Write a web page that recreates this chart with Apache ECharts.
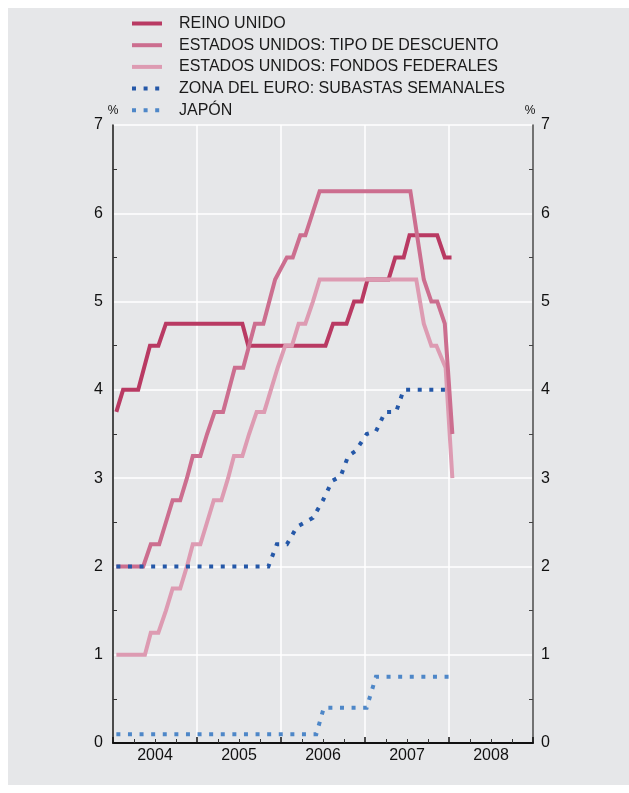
<!DOCTYPE html>
<html>
<head>
<meta charset="utf-8">
<script src="https://cdn.jsdelivr.net/npm/echarts@6/dist/echarts.min.js"></script>
<style>
  html, body { margin: 0; padding: 0; background: #ffffff; }
  #bg { position: absolute; left: 8px; top: 8px; width: 621px; height: 777px; background: #e6e7e9; }
  #chart { position: absolute; left: 0; top: 0; width: 629px; height: 793px; }
</style>
</head>
<body>
<div id="bg"></div>
<div id="chart"></div>
<script>
// Series names (legend order)
const names = [
  'REINO UNIDO',
  'ESTADOS UNIDOS: TIPO DE DESCUENTO',
  'ESTADOS UNIDOS: FONDOS FEDERALES',
  'ZONA DEL EURO: SUBASTAS SEMANALES',
  'JAPÓN'
];
// x values are decimal years
const ukT = [2004.04, 2004.12, 2004.30, 2004.37, 2004.44, 2004.54, 2004.63, 2005.54, 2005.61, 2006.53, 2006.62, 2006.78, 2006.87, 2006.96, 2007.03, 2007.28, 2007.36, 2007.46, 2007.53, 2007.86, 2007.95, 2008.03];
const ukV = [3.75, 4.0, 4.0, 4.25, 4.5, 4.5, 4.75, 4.75, 4.5, 4.5, 4.75, 4.75, 5.0, 5.0, 5.25, 5.25, 5.5, 5.5, 5.75, 5.75, 5.5, 5.5];

const discT = [2004.04, 2004.36, 2004.45, 2004.55, 2004.63, 2004.71, 2004.80, 2004.88, 2004.95, 2005.04, 2005.12, 2005.21, 2005.31, 2005.45, 2005.55, 2005.69, 2005.79, 2005.93, 2006.07, 2006.14, 2006.23, 2006.29, 2006.46, 2007.54, 2007.70, 2007.79, 2007.86, 2007.95, 2008.04];
const discV = [2.0, 2.0, 2.25, 2.25, 2.5, 2.75, 2.75, 3.0, 3.25, 3.25, 3.5, 3.75, 3.75, 4.25, 4.25, 4.75, 4.75, 5.25, 5.5, 5.5, 5.75, 5.75, 6.25, 6.25, 5.25, 5.0, 5.0, 4.75, 3.5];

const fedT = [2004.04, 2004.38, 2004.45, 2004.54, 2004.63, 2004.71, 2004.80, 2004.88, 2004.95, 2005.04, 2005.12, 2005.20, 2005.29, 2005.37, 2005.44, 2005.54, 2005.62, 2005.71, 2005.80, 2005.88, 2005.96, 2006.05, 2006.13, 2006.21, 2006.29, 2006.38, 2006.46, 2007.61, 2007.70, 2007.79, 2007.85, 2007.96, 2008.04];
const fedV = [1.0, 1.0, 1.25, 1.25, 1.5, 1.75, 1.75, 2.0, 2.25, 2.25, 2.5, 2.75, 2.75, 3.0, 3.25, 3.25, 3.5, 3.75, 3.75, 4.0, 4.25, 4.5, 4.5, 4.75, 4.75, 5.0, 5.25, 5.25, 4.75, 4.5, 4.5, 4.25, 3.0];

const euroT = [2004.04, 2005.85, 2005.95, 2006.07, 2006.19, 2006.38, 2006.50, 2006.61, 2006.71, 2006.80, 2006.89, 2007.02, 2007.13, 2007.24, 2007.37, 2007.46, 2008.00];
const euroV = [2.0, 2.0, 2.25, 2.25, 2.45, 2.55, 2.75, 2.97, 3.02, 3.25, 3.31, 3.5, 3.53, 3.75, 3.75, 4.0, 4.0];

const japT = [2004.04, 2006.42, 2006.51, 2007.02, 2007.13, 2008.03];
const japV = [0.1, 0.1, 0.4, 0.4, 0.75, 0.75];

// Axis ticks
const yTicks = [0, 1, 2, 3, 4, 5, 6, 7];
const yearLabels = ['2004', '2005', '2006', '2007', '2008'];

const colors = ['#b93a63', '#cc6e8f', '#dd9bb2', '#2558a8', '#4e87c8'];
const FONT = '"Liberation Sans", Arial, Helvetica, sans-serif';

function zip(t, v) { return t.map((x, i) => [x, v[i]]); }

function lineSeries(idx, t, v, dotted) {
  return {
    name: names[idx],
    type: 'line',
    xAxisIndex: 0,
    yAxisIndex: 0,
    data: zip(t, v),
    symbol: 'none',
    animation: false,
    lineStyle: {
      color: colors[idx],
      width: 4,
      type: dotted ? [4, 7.6] : 'solid',
      cap: 'butt',
      join: 'miter'
    },
    itemStyle: { color: colors[idx] }
  };
}

const chart = echarts.init(document.getElementById('chart'), null, { renderer: 'canvas' });
const yMin = yTicks[0], yMax = yTicks[yTicks.length - 1];
const xMin = +yearLabels[0], xMax = +yearLabels[yearLabels.length - 1] + 1;

const option = {
  backgroundColor: 'transparent',
  animation: false,
  textStyle: { fontFamily: FONT },
  legend: {
    orient: 'vertical',
    left: 130,
    top: 15.5,
    padding: 0,
    itemWidth: 30,
    itemHeight: 16,
    itemGap: 5.7,
    data: names,
    selectedMode: false,
    itemStyle: { opacity: 0 },
    lineStyle: { width: 4 },
    textStyle: { fontSize: 16, color: '#1a1a1a', fontFamily: FONT, padding: [0, 0, 0, 12] }
  },
  grid: { left: 113, right: 96, top: 125, bottom: 50 },
  xAxis: [
    {
      type: 'value', min: xMin, max: xMax, interval: 1,
      axisLine: { show: true, onZero: false, lineStyle: { color: '#111', width: 2 } },
      axisTick: { show: true, inside: true, length: 6, lineStyle: { color: '#111', width: 1.5 } },
      minorTick: { show: true, splitNumber: 4, length: 4, lineStyle: { color: '#333', width: 1 } },
      splitLine: { show: true, lineStyle: { color: '#ffffff', width: 1.5 } },
      axisLabel: { show: false }
    },
    {
      type: 'value', min: xMin, max: xMax, interval: 0.5, position: 'bottom',
      axisLine: { show: false, onZero: false },
      axisTick: { show: false },
      splitLine: { show: false },
      axisLabel: {
        show: true, fontSize: 16, color: '#111', margin: 5, fontFamily: FONT,
        formatter: function (v) {
          const f = Math.round((v % 1) * 100) / 100;
          if (f === 0.5) { const y = String(Math.floor(v)); return yearLabels.indexOf(y) >= 0 ? y : ''; }
          return '';
        }
      }
    }
  ],
  yAxis: [
    {
      type: 'value', position: 'left', min: yMin, max: yMax, interval: 1,
      name: '%', nameLocation: 'end', nameGap: 5,
      nameTextStyle: { fontSize: 12, color: '#111', align: 'center', fontFamily: FONT },
      axisLine: { show: true, onZero: false, lineStyle: { color: '#111', width: 1.5 } },
      axisTick: { show: false, inside: true },
      minorTick: { show: true, splitNumber: 2, length: 4, lineStyle: { color: '#333', width: 1 } },
      splitLine: { show: true, lineStyle: { color: '#ffffff', width: 1.5 } },
      axisLabel: { fontSize: 16, color: '#111', margin: 10, fontFamily: FONT }
    },
    {
      type: 'value', position: 'right', min: yMin, max: yMax, interval: 1,
      name: '%', nameLocation: 'end', nameGap: 5,
      nameTextStyle: { fontSize: 12, color: '#111', align: 'center', padding: [0, 6, 0, 0], fontFamily: FONT },
      axisLine: { show: true, onZero: false, lineStyle: { color: '#444', width: 1.5 } },
      axisTick: { show: false, inside: true },
      minorTick: { show: true, splitNumber: 2, length: 4, lineStyle: { color: '#444', width: 1 } },
      splitLine: { show: false },
      axisLabel: { fontSize: 16, color: '#111', margin: 8, fontFamily: FONT }
    }
  ],
  series: [
    lineSeries(0, ukT, ukV, false),
    lineSeries(2, fedT, fedV, false),
    lineSeries(1, discT, discV, false),
    lineSeries(3, euroT, euroV, true),
    lineSeries(4, japT, japV, true)
  ]
};
chart.setOption(option);
</script>
</body>
</html>
